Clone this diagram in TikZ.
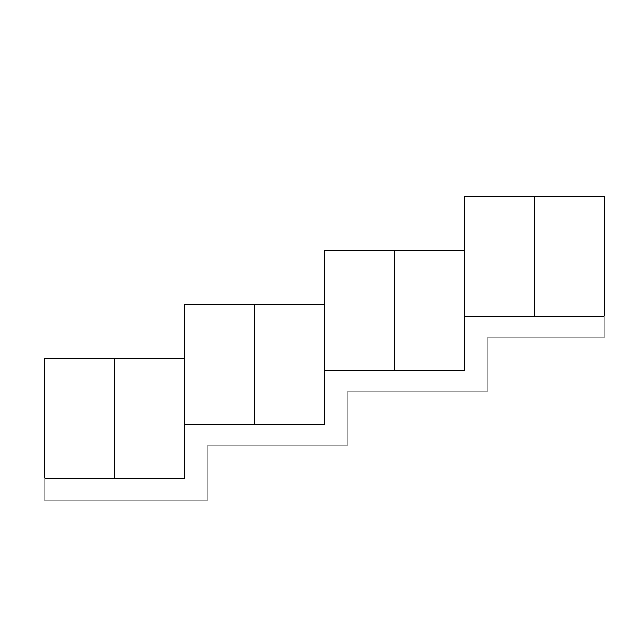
\documentclass[tikz,border=0pt]{standalone}
\usepackage{tikz}
\usetikzlibrary{positioning,calc}

\begin{document}
\begin{tikzpicture}[x=1pt,y=1pt,node distance=70pt,on grid,
    half/.style={draw,line width=0.8pt,inner sep=0pt,outer sep=0pt,minimum width=70pt,minimum height=120pt}]
  \useasboundingbox (0,0) rectangle (640,640);
  \node[half] (a1) at (79,221.5) {};
  \node[half] (a2) [right=of a1] {};
  \node[half] (b1) [above right=54pt and 140pt of a1] {};
  \node[half] (b2) [right=of b1] {};
  \node[half] (c1) [above right=54pt and 140pt of b1] {};
  \node[half] (c2) [right=of c1] {};
  \node[half] (d1) [above right=54pt and 140pt of c1] {};
  \node[half] (d2) [right=of d1] {};
  \draw[gray!80,line width=0.6pt] (a1.south west) -- ++(0,-22)
    -| ($(b1.south west)+(23,-21)$)
    -| ($(c1.south west)+(23,-21)$)
    -| ($(d1.south west)+(23,-21)$)
    -| (d2.south east);
\end{tikzpicture}
\end{document}
